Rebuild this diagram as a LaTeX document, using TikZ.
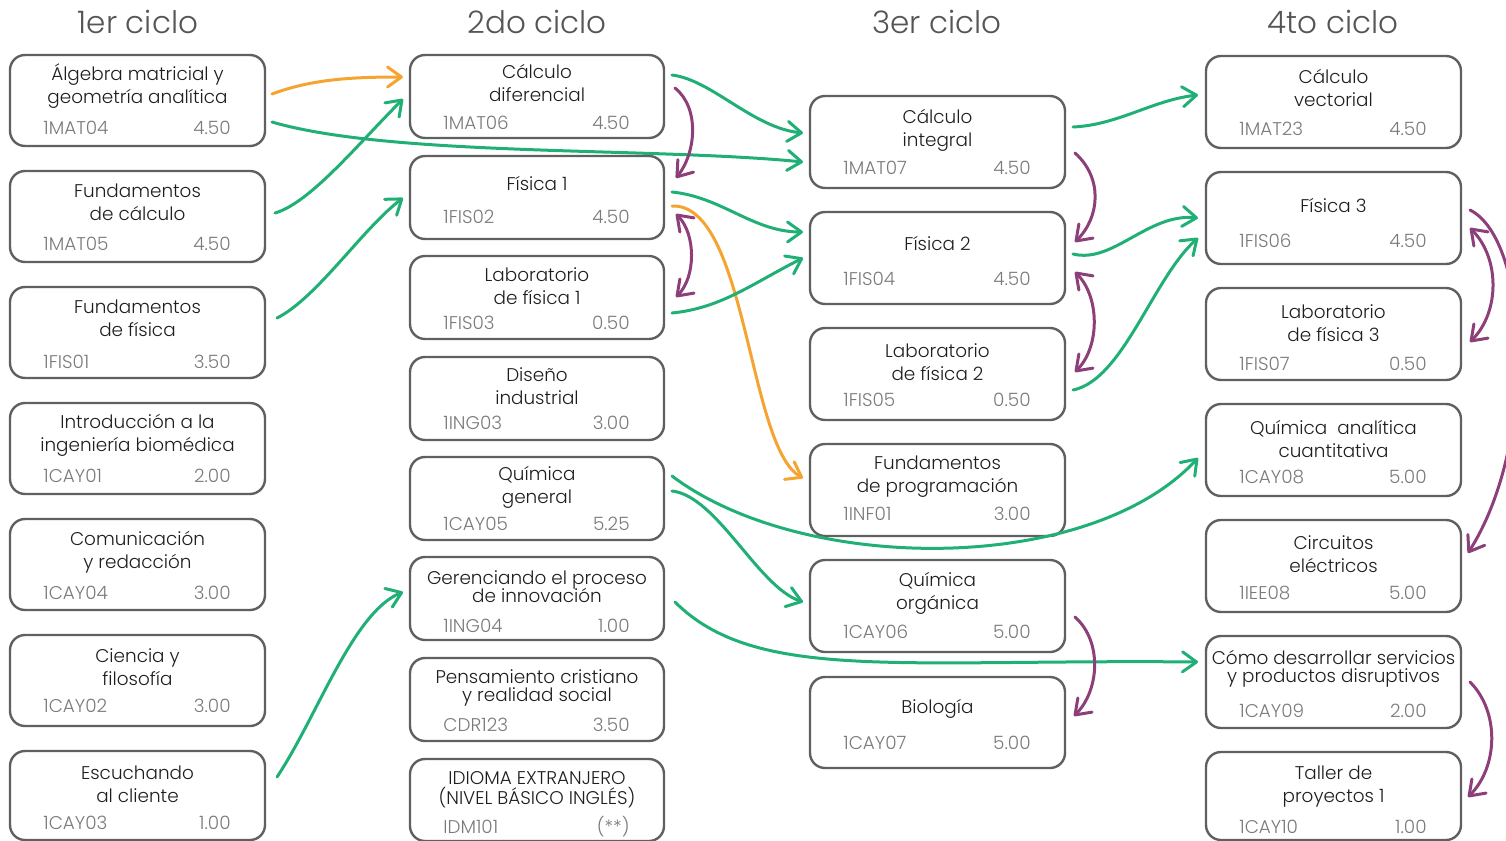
\documentclass[tikz,border=0pt]{standalone}
\usepackage{fontspec}
\IfFontExistsTF{Poppins Light}{\setmainfont{Poppins Light}}{\setmainfont{Poppins}}
\usetikzlibrary{arrows.meta,calc}
\definecolor{gr}{HTML}{20AF75}
\definecolor{orr}{HTML}{F5A431}
\definecolor{pu}{HTML}{8C3F78}
\definecolor{bord}{HTML}{606060}
\definecolor{ttlc}{HTML}{1E1E1E}
\definecolor{codc}{HTML}{7A7A7A}
\definecolor{hdrc}{HTML}{555555}
\def\crsParse#1,#2\relax{\def\crsTo{#1}\def\crsCo{#2}}
\newcommand\course[9]{%
  \crsParse#6\relax
  \pgfmathsetmacro\crsX{(#2+#3)/2}%
  \pgfmathsetmacro\crsY{(#4+#5)/2}%
  \pgfmathsetmacro\crsW{(#3-#2)*0.5}%
  \pgfmathsetmacro\crsH{(#5-#4)*0.5}%
  \node[box,minimum width=\crsW pt,minimum height=\crsH pt] (#1) at (\crsX,\crsY) {};
  \node[ttl] (#1-t) at (\crsX,#4+\crsTo) {#7};
  \node[cod,anchor=base west] (#1-c) at (#2+33,#5-\crsCo+7) {#8};
  \node[cod,anchor=base east] (#1-k) at (#3-34,#5-\crsCo+7) {#9};
}
\begin{document}
\begin{tikzpicture}[x=0.5pt,y=-0.5pt,
  box/.style={draw=bord,line width=1.2pt,rounded corners=7.5pt,inner sep=0pt,outer sep=0pt},
  ttl/.style={align=center,text=ttlc,inner sep=0pt,font=\fontsize{9.2}{11.5}\selectfont},
  cod/.style={text=codc,inner sep=0pt,font=\fontsize{9.2}{11}\selectfont},
  hdr/.style={text=hdrc,inner sep=0pt,font=\fontsize{15.5}{18}\selectfont},
  conn/.style={line width=1.5pt,line cap=round,-{Straight Barb[length=7pt,width=10pt,line cap=round,line join=round]}},
  gconn/.style={conn,draw=gr},
  oconn/.style={conn,draw=orr},
  pconn/.style={conn,draw=pu},
  pdconn/.style={line width=1.5pt,line cap=round,draw=pu,{Straight Barb[length=7pt,width=10pt,line cap=round,line join=round]}-{Straight Barb[length=7pt,width=10pt,line cap=round,line join=round]}}]
\useasboundingbox (0,0) rectangle (1506,841);
\clip (0,0) rectangle (1506,841);
% headers
\node[hdr] (h1) at (138,22) {1er ciclo};
\node[hdr] (h2) at (537,22) {2do ciclo};
\node[hdr] (h3) at (937,22) {3er ciclo};
\node[hdr] (h4) at (1333,22) {4to ciclo};
% column 1
\course{alg}{10}{265}{55}{146}{31,19}{Álgebra matricial y\\geometría analítica}{1MAT04}{4.50}
\course{fcal}{10}{265}{171}{262}{31,19}{Fundamentos\\de cálculo}{1MAT05}{4.50}
\course{ffis}{10}{265}{287}{378}{31,17}{Fundamentos\\de física}{1FIS01}{3.50}
\course{intro}{10}{265}{403}{494}{32,19}{Introducción a la\\ingeniería biomédica}{1CAY01}{2.00}
\course{com}{10}{265}{519}{610}{33,18}{Comunicación\\y redacción}{1CAY04}{3.00}
\course{cie}{10}{265}{635}{726}{32,21}{Ciencia y\\filosofía}{1CAY02}{3.00}
\course{esc}{10}{265}{751}{840}{33,18}{Escuchando\\al cliente}{1CAY03}{1.00}
% column 2
\course{cdif}{410}{664}{55}{138}{28,16}{Cálculo\\diferencial}{1MAT06}{4.50}
\course{fi1}{410}{664}{156}{239}{27,23}{Física 1}{1FIS02}{4.50}
\course{lf1}{410}{664}{256}{339}{30,17}{Laboratorio\\de física 1}{1FIS03}{0.50}
\course{dis}{410}{664}{357}{440}{29,18}{Diseño\\industrial}{1ING03}{3.00}
\course{qg}{410}{664}{457}{540}{30,17}{Química\\general}{1CAY05}{5.25}
\course{ger}{410}{664}{557}{640}{30,15}{Gerenciando el proceso\\[-2.5pt]de innovación}{1ING04}{1.00}
\course{pen}{410}{664}{658}{741}{30,17}{Pensamiento cristiano\\[-2.5pt]y realidad social}{CDR123}{3.50}
\course{idi}{410}{664}{759}{841}{31,15}{IDIOMA EXTRANJERO\\[-1.5pt](NIVEL BÁSICO INGLÉS)}{IDM101}{(**)}
% column 3
\course{cint}{810}{1065}{96}{188}{34,21}{Cálculo\\integral}{1MAT07}{4.50}
\course{fi2}{810}{1065}{212}{304}{31,26}{Física 2}{1FIS04}{4.50}
\course{lf2}{810}{1065}{328}{420}{34,21}{Laboratorio\\de física 2}{1FIS05}{0.50}
\course{fprog}{810}{1065}{444}{536}{33,23}{Fundamentos\\de programación}{1INF01}{3.00}
\course{qorg}{810}{1065}{560}{652}{33,21}{Química\\orgánica}{1CAY06}{5.00}
\course{bio}{810}{1065}{677}{768}{32,26}{Biología}{1CAY07}{5.00}
% column 4
\course{cvec}{1206}{1461}{56}{148}{32,20}{Cálculo\\vectorial}{1MAT23}{4.50}
\course{fi3}{1206}{1461}{172}{264}{33,24}{Física 3}{1FIS06}{4.50}
\course{lf3}{1206}{1461}{288}{380}{35,17}{Laboratorio\\de física 3}{1FIS07}{0.50}
\course{qan}{1206}{1461}{404}{496}{35,20}{Química~ analítica\\cuantitativa}{1CAY08}{5.00}
\course{circ}{1206}{1461}{520}{612}{34,20}{Circuitos\\eléctricos}{1IEE08}{5.00}
\course{como}{1206}{1461}{636}{728}{33,18}{Cómo desarrollar servicios\\[-2.5pt]y productos disruptivos}{1CAY09}{2.00}
\course{tal}{1206}{1461}{752}{840}{35,14}{Taller de\\proyectos 1}{1CAY10}{1.00}
% orange connectors
\draw[oconn] ($(alg.east)+(7,-6.5)$) .. controls +(40,-15) and +(-50,0) .. ($(cdif.west)+(-7,-19.5)$);
\draw[oconn] ($(fi1.east)+(8,8.5)$) .. controls +(75,-3) and +(-55,-30) .. ($(fprog.west)+(-7,-12)$);
% green connectors
\draw[gconn] ($(alg.east)+(7,21.5)$) .. controls +(120,35) and +(-150,-15) .. ($(cint.west)+(-7,20)$);
\draw[gconn] ($(fcal.east)+(10,-3.5)$) .. controls +(35,-10) and +(-45,45) .. ($(cdif.west)+(-7,2.5)$);
\draw[gconn] ($(ffis.east)+(12,-14.5)$) .. controls +(40,-20) and +(-40,30) .. ($(fi1.west)+(-7,0.5)$);
\draw[gconn] ($(esc.east)+(12,-18.5)$) .. controls +(40,-60) and +(-50,20) .. ($(ger.west)+(-7,-6.5)$);
\draw[gconn] ($(cdif.east)+(8,-21.5)$) .. controls +(40,5) and +(-50,-5) .. ($(cint.west)+(-7,-9)$);
\draw[gconn] ($(fi1.east)+(8,-5.5)$) .. controls +(50,5) and +(-50,0) .. ($(fi2.west)+(-7,-26)$);
\draw[gconn] ($(lf1.east)+(8,15.5)$) .. controls +(50,-5) and +(-50,25) .. ($(fi2.west)+(-7,0)$);
\draw[gconn] ($(qg.east)+(8,-22.5)$) .. controls +(130,98) and +(-110,118) .. ($(qan.west)+(-8,8)$);
\draw[gconn] ($(qg.east)+(8,-7.5)$) .. controls +(45,5) and +(-45,-15) .. ($(qorg.west)+(-7,-4)$);
\draw[gconn] ($(ger.east)+(11,3.5)$) .. controls +(80,80) and +(-300,-3) .. ($(como.west)+(-8,-20)$);
\draw[gconn] ($(cint.east)+(8,-15)$) .. controls +(45,-2) and +(-45,5) .. ($(cvec.west)+(-8,-7)$);
\draw[gconn] ($(fi2.east)+(8,-4)$) .. controls +(40,10) and +(-50,-5) .. ($(fi3.west)+(-8,0)$);
\draw[gconn] ($(lf2.east)+(8,16)$) .. controls +(50,-10) and +(-45,40) .. ($(fi3.west)+(-8,20)$);
% purple connectors
\draw[pconn] ($(cdif.east)+(11,-8.5)$) .. controls +(25,20) and +(20,-25) .. ($(fi1.east)+(12,-19.5)$);
\draw[pdconn] ($(fi1.east)+(12,16.5)$) .. controls +(20,20) and +(20,-20) .. ($(lf1.east)+(12,-0.5)$);
\draw[pconn] ($(cint.east)+(10,11)$) .. controls +(28,25) and +(25,-25) .. ($(fi2.east)+(10,-16)$);
\draw[pdconn] ($(fi2.east)+(10,14)$) .. controls +(25,25) and +(25,-25) .. ($(lf2.east)+(10,-2)$);
\draw[pconn] ($(qorg.east)+(10,11)$) .. controls +(28,25) and +(25,-25) .. ($(bio.east)+(9,-6.5)$);
\draw[pconn] ($(fi3.east)+(9,-8)$) .. controls +(60,30) and +(70,-110) .. ($(circ.east)+(7,-13)$);
\draw[pdconn] ($(fi3.east)+(9,10)$) .. controls +(30,30) and +(30,-30) .. ($(lf3.east)+(9,8)$);
\draw[pconn] ($(como.east)+(9,0)$) .. controls +(30,30) and +(30,-30) .. ($(tal.east)+(7,1)$);
\end{tikzpicture}
\end{document}
